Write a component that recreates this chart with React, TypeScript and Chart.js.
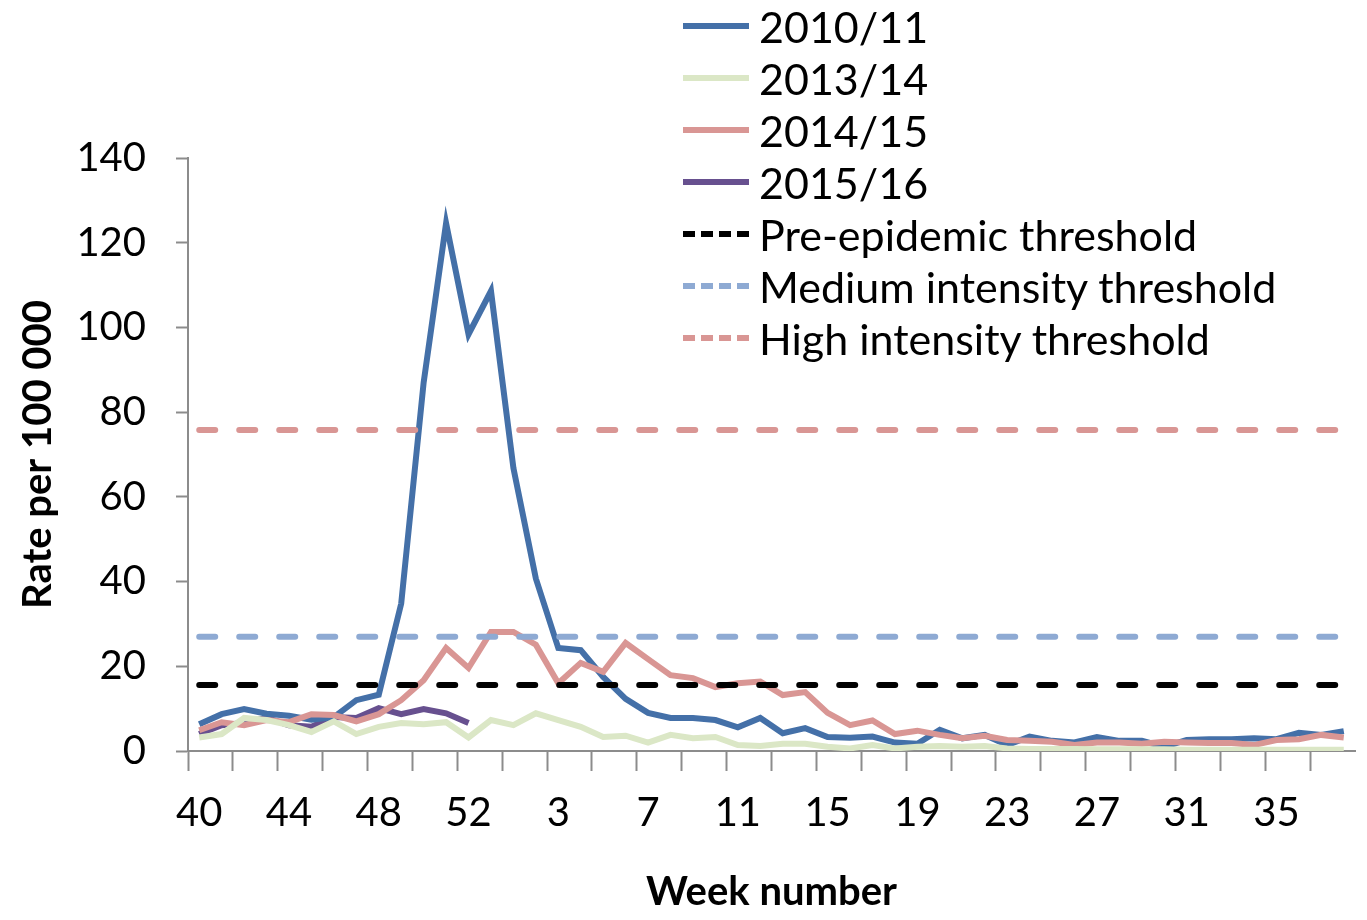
import { useEffect, useRef } from 'react'
import Chart from 'chart.js/auto'

const weeks = [
  '40', '41', '42', '43', '44', '45', '46', '47', '48', '49', '50', '51', '52', '53',
  '1', '2', '3', '4', '5', '6', '7', '8', '9', '10', '11', '12', '13', '14', '15', '16',
  '17', '18', '19', '20', '21', '22', '23', '24', '25', '26', '27', '28', '29', '30',
  '31', '32', '33', '34', '35', '36', '37', '38',
]

const season1011 = [
  6.3, 8.7, 9.9, 8.8, 8.3, 7.4, 8, 12, 13.3, 34.8, 87, 124.6, 98.4, 108.6, 66.8, 40.7,
  24.3, 23.8, 17.5, 12.3, 9, 7.8, 7.8, 7.3, 5.6, 7.8, 4.2, 5.4, 3.3, 3.1, 3.4, 2,
  1.7, 5, 3, 3.8, 1.4, 3.4, 2.4, 2, 3.3, 2.4, 2.4, 1, 2.6, 2.8, 2.8, 3, 2.8, 4.3, 3.8, 4.7,
]
const season1314 = [
  3.2, 4, 7.8, 7.3, 6.1, 4.5, 7, 4, 5.7, 6.6, 6.3, 6.8, 3.2, 7.3, 6.1, 8.9,
  7.3, 5.7, 3.3, 3.6, 2, 3.8, 3, 3.3, 1.4, 1.2, 1.7, 1.7, 1, 0.6, 1.4, 0.6,
  1, 1.2, 1, 1.2, 0.6, 0.5, 0.5, 0.5, 0.4, 0.4, 0.4, 0.4, 0.3, 0.3, 0.3, 0.3, 0.3, 0.3, 0.3, 0.3,
]
const season1415 = [
  4.9, 6.8, 6.1, 7.3, 6.8, 8.7, 8.5, 7, 8.7, 12, 16.7, 24.3, 19.6, 28.1, 28.1, 25.1,
  16, 20.8, 18.7, 25.5, 21.7, 17.9, 17.2, 15.1, 16, 16.4, 13.2, 13.9, 9, 6.1, 7.2, 4,
  4.8, 3.8, 3, 3.6, 2.6, 2.4, 2.2, 1.4, 2, 2, 1.7, 2.2, 2, 1.9, 1.9, 1.4, 2.6, 2.8, 3.8, 3.2,
]
const season1516 = [4, 6.1, 6.6, 7.8, 6.1, 5.7, 8, 7.8, 10.1, 8.7, 9.9, 8.9, 6.6]

const preEpidemic = 15.6
const mediumIntensity = 27
const highIntensity = 75.8

const legendItems = [
  { label: '2010/11', color: '#4470a8', dashed: false },
  { label: '2013/14', color: '#dbe7c6', dashed: false },
  { label: '2014/15', color: '#d99694', dashed: false },
  { label: '2015/16', color: '#67508f', dashed: false },
  { label: 'Pre-epidemic threshold', color: '#000000', dashed: true },
  { label: 'Medium intensity threshold', color: '#8eaad3', dashed: true },
  { label: 'High intensity threshold', color: '#d99694', dashed: true },
]

const font = 'Lato, "Open Sans", sans-serif'

export default function App() {
  const canvasRef = useRef<HTMLCanvasElement>(null)

  useEffect(() => {
    if (!canvasRef.current) return
    const line = (label: string, data: number[], color: string) => ({
      label, data, borderColor: color, borderWidth: 6, pointRadius: 0, tension: 0, fill: false,
    })
    const threshold = (label: string, value: number, color: string) => ({
      label,
      data: weeks.map(() => value),
      borderColor: color,
      borderWidth: 6,
      borderDash: [16, 24],
      borderCapStyle: 'round' as const,
      pointRadius: 0,
      fill: false,
    })
    const chart = new Chart(canvasRef.current, {
      type: 'line',
      data: {
        labels: weeks,
        datasets: [
          threshold('High intensity threshold', highIntensity, '#d99694'),
          threshold('Medium intensity threshold', mediumIntensity, '#8eaad3'),
          threshold('Pre-epidemic threshold', preEpidemic, '#000000'),
          line('2013/14', season1314, '#dbe7c6'),
          line('2014/15', season1415, '#d99694'),
          line('2010/11', season1011, '#4470a8'),
          line('2015/16', season1516, '#67508f'),
        ],
      },
      options: {
        animation: false,
        responsive: false,
        layout: { padding: { top: 158, right: 12, left: 10, bottom: 0 } },
        plugins: { legend: { display: false }, tooltip: { enabled: false } },
        scales: {
          x: {
            offset: true,
            grid: {
              offset: true,
              drawOnChartArea: false,
              tickLength: 20,
              tickWidth: 2,
              tickColor: (ctx: any) => (ctx.index % 2 === 0 ? '#8c8c8c' : 'transparent'),
            },
            border: { color: '#8c8c8c', width: 2 },
            ticks: {
              autoSkip: false,
              maxRotation: 0,
              padding: 18,
              color: '#000',
              font: { family: font, size: 40 },
              callback: (_v: any, i: number) => (i % 4 === 0 ? weeks[i] : ''),
            },
            title: {
              display: true,
              text: 'Week number',
              color: '#000',
              font: { family: font, size: 40, weight: 'bold' },
              padding: { top: 26 },
            },
            afterFit: (s: any) => { s.height = 169 },
          },
          y: {
            min: 0,
            max: 140,
            ticks: { stepSize: 20, padding: 30, color: '#000', font: { family: font, size: 40 } },
            grid: { drawOnChartArea: false, tickLength: 12, tickWidth: 2, tickColor: '#8c8c8c' },
            border: { color: '#8c8c8c', width: 2 },
            title: {
              display: true,
              text: 'Rate per 100 000',
              color: '#000',
              font: { family: font, size: 40, weight: 'bold' },
              padding: { bottom: 8 },
            },
            afterFit: (s: any) => { s.width = 178 },
          },
        },
      },
    })
    return () => chart.destroy()
  }, [])

  return (
    <div style={{ position: 'absolute', left: 0, top: 0, width: 1367, height: 920, background: '#fff' }}>
      <canvas ref={canvasRef} width={1367} height={920} />
      <div style={{ position: 'absolute', left: 683, top: 0 }}>
        {legendItems.map((it) => (
          <div key={it.label} style={{ display: 'flex', alignItems: 'center', height: 52 }}>
            <div
              style={{
                width: 66,
                height: 0,
                borderTop: `6px ${it.dashed ? 'dashed' : 'solid'} ${it.color}`,
                marginRight: 10,
              }}
            />
            <span style={{ fontFamily: font, fontSize: 43, color: '#000', whiteSpace: 'nowrap' }}>
              {it.label}
            </span>
          </div>
        ))}
      </div>
    </div>
  )
}
